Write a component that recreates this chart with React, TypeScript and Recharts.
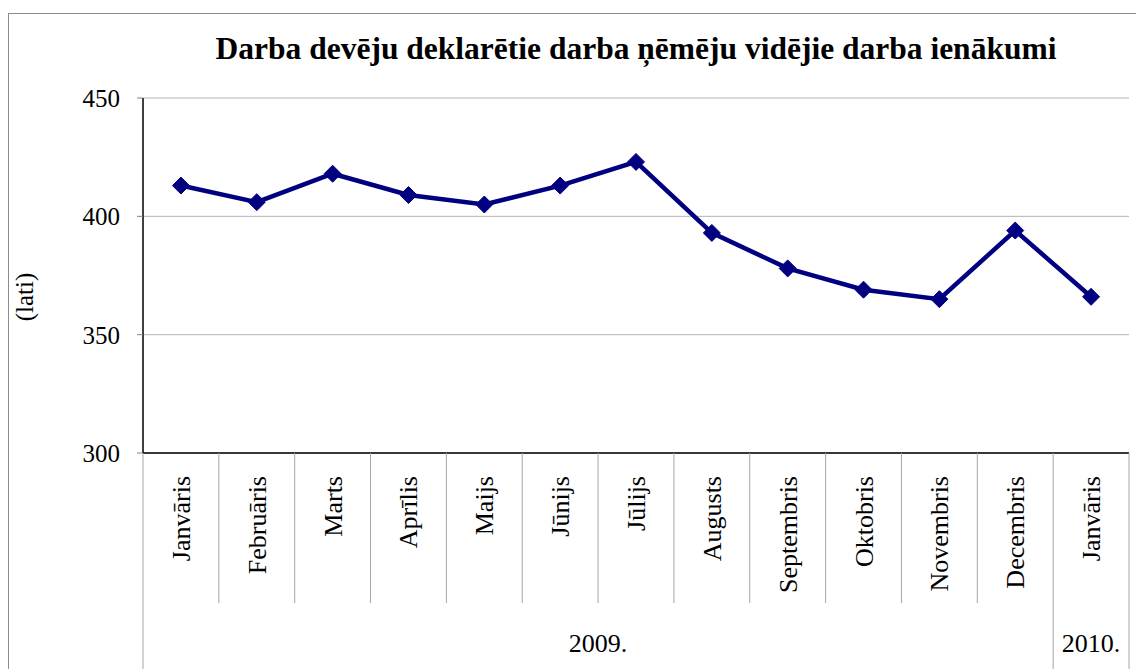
import React from 'react';
import { LineChart, Line, XAxis, YAxis, CartesianGrid, Customized } from 'recharts';

const months = ['Janvāris', 'Februāris', 'Marts', 'Aprīlis', 'Maijs', 'Jūnijs', 'Jūlijs', 'Augusts', 'Septembris', 'Oktobris', 'Novembris', 'Decembris', 'Janvāris'];
const years = ['2009.', '2009.', '2009.', '2009.', '2009.', '2009.', '2009.', '2009.', '2009.', '2009.', '2009.', '2009.', '2010.'];
const values = [413, 406, 418, 409, 405, 413, 423, 393, 378, 369, 365, 394, 366];
const yTicks = [300, 350, 400, 450];
const title = 'Darba devēju deklarētie darba ņēmēju vidējie darba ienākumi';
const yLabel = '(lati)';

const data = months.map((m, i) => ({ key: String(i), month: m, year: years[i], value: values[i] }));

const FONT = '"Liberation Serif", "Times New Roman", serif';
const NAVY = '#000080';
const SEP = '#a6a6a6';

const XTick = (props: any) => {
  const { x, y, index, payload, visibleTicksCount, width } = props;
  const count = visibleTicksCount || months.length;
  const bw = width ? width / count : (payload && payload.offset ? payload.offset * 2 : 76);
  const left = x - bw / 2;
  const isGroupStart = index === 0 || years[index] !== years[index - 1];
  const isLast = index === count - 1;
  let groupLen = 0;
  if (isGroupStart) {
    let j = index;
    while (j < years.length && years[j] === years[index]) { groupLen++; j++; }
  }
  return (
    <g>
      <line x1={left} y1={y} x2={left} y2={isGroupStart ? y + 230 : y + 150} stroke={SEP} strokeWidth={1} />
      {isLast && <line x1={left + bw} y1={y} x2={left + bw} y2={y + 230} stroke={SEP} strokeWidth={1} />}
      <text
        x={x + 9}
        y={y + 23}
        transform={`rotate(-90, ${x + 9}, ${y + 23})`}
        textAnchor="end"
        fontFamily={FONT}
        fontSize={26}
        fill="#000"
      >
        {months[index]}
      </text>
      {isGroupStart && (
        <text x={left + (groupLen * bw) / 2} y={y + 199} textAnchor="middle" fontFamily={FONT} fontSize={26} fill="#000">
          {years[index]}
        </text>
      )}
    </g>
  );
};

const Diamond = (p: any) => {
  const { cx, cy, index } = p;
  const r = 8.5;
  return (
    <polygon key={`d-${index}`} points={`${cx},${cy - r} ${cx + r},${cy} ${cx},${cy + r} ${cx - r},${cy}`} fill={NAVY} stroke={NAVY} />
  );
};

const Frame = () => (
  <g>
    <rect x={0.5} y={5.5} width={1200} height={800} fill="none" stroke="#8c8c8c" strokeWidth={1} />
    <text x={628} y={51} textAnchor="middle" fontFamily={FONT} fontWeight="bold" fontSize={31.5} fill="#000">
      {title}
    </text>
    <text x={25} y={289} transform="rotate(-90, 25, 289)" textAnchor="middle" fontFamily={FONT} fontSize={25} fill="#000">
      {yLabel}
    </text>
  </g>
);

export default function App() {
  return (
    <div style={{ width: 1136, height: 661 }}>
      <LineChart width={1136} height={661} data={data} margin={{ top: 90, right: 15, left: 0, bottom: 0 }}>
        <CartesianGrid vertical={false} stroke="#b3b3b3" strokeWidth={1} />
        <XAxis
          dataKey="key"
          scale="band"
          height={216}
          tickSize={0}
          tickMargin={0}
          tickLine={false}
          axisLine={{ stroke: '#000', strokeWidth: 1.5 }}
          tick={<XTick />}
          interval={0}
        />
        <YAxis
          domain={[300, 450]}
          ticks={yTicks}
          width={135}
          tickSize={6}
          tickMargin={17}
          tickLine={{ stroke: '#808080' }}
          axisLine={{ stroke: '#000', strokeWidth: 1.5 }}
          tick={{ fontFamily: FONT, fontSize: 25, fill: '#000' }}
          allowDataOverflow
        />
        <YAxis yAxisId="r" orientation="right" width={0} domain={[300, 450]} tick={false} tickLine={false} axisLine={{ stroke: '#8c8c8c', strokeWidth: 1.5 }} />
        <Line
          dataKey="value"
          stroke={NAVY}
          strokeWidth={4.5}
          dot={<Diamond />}
          activeDot={false}
          isAnimationActive={false}
        />
        <Customized component={Frame} />
      </LineChart>
    </div>
  );
}
